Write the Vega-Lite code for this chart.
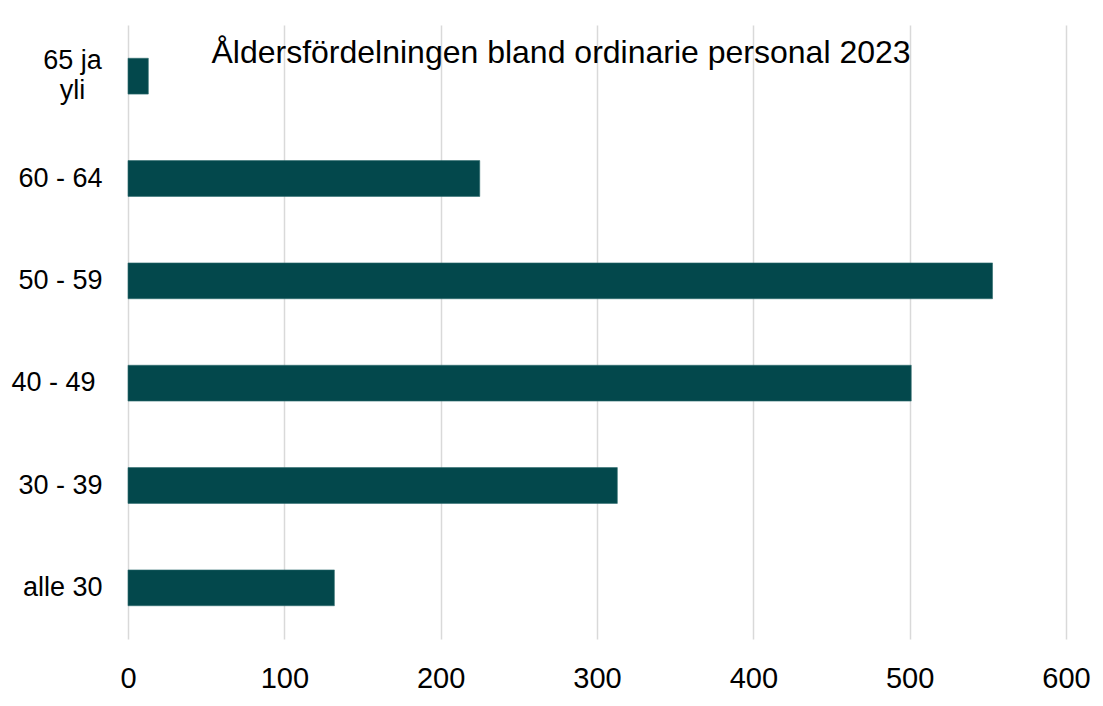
{
  "$schema": "https://vega.github.io/schema/vega-lite/v6.json",
  "width": 938,
  "height": 614,
  "autosize": {"type": "none"},
  "padding": {"left": 128, "top": 25, "right": 37, "bottom": 67},
  "background": "white",
  "title": {
    "text": "Åldersfördelningen bland ordinarie personal 2023",
    "font": "Liberation Sans",
    "fontSize": 32,
    "fontWeight": "normal",
    "color": "#000000",
    "anchor": "middle",
    "baseline": "alphabetic",
    "offset": 0,
    "dy": 70,
    "dx": -36
  },
  "data": {
    "values": [
      {"age": "65 ja yli", "count": 13},
      {"age": "60 - 64", "count": 225},
      {"age": "50 - 59", "count": 553},
      {"age": "40 - 49 ", "count": 501},
      {"age": "30 - 39", "count": 313},
      {"age": "alle 30", "count": 132}
    ]
  },
  "mark": {"type": "bar", "color": "#03484c", "stroke": "#2f6b6e", "strokeWidth": 0.6},
  "encoding": {
    "y": {
      "field": "age",
      "type": "nominal",
      "sort": ["65 ja yli", "60 - 64", "50 - 59", "40 - 49 ", "30 - 39", "alle 30"],
      "scale": {"paddingInner": 0.65, "paddingOuter": 0.325},
      "axis": {
        "title": null,
        "domain": false,
        "ticks": false,
        "grid": false,
        "labelFont": "Liberation Sans",
        "labelFontSize": 27,
        "labelColor": "#000000",
        "labelPadding": {"condition": [{"test": "datum.value == '65 ja yli'", "value": 56}, {"test": "datum.value == '40 - 49 '", "value": 33}], "value": 26},
        "labelAlign": {"condition": {"test": "datum.value == '65 ja yli'", "value": "center"}, "value": "right"},
        "labelLineHeight": 30,
        "labelOffset": {"condition": {"test": "datum.value == '65 ja yli'", "value": -15}, "value": 0},
        "labelExpr": "datum.label == '65 ja yli' ? ['65 ja', 'yli'] : datum.label"
      }
    },
    "x": {
      "field": "count",
      "type": "quantitative",
      "scale": {"domain": [0, 600], "nice": false},
      "axis": {
        "title": null,
        "values": [0, 100, 200, 300, 400, 500, 600],
        "domain": false,
        "ticks": false,
        "grid": true,
        "gridColor": "#d9d9d9",
        "gridWidth": 1.5,
        "labelFlush": false,
        "labelFont": "Liberation Sans",
        "labelFontSize": 29,
        "labelColor": "#000000",
        "labelPadding": 25
      }
    }
  },
  "config": {"view": {"stroke": null}}
}
